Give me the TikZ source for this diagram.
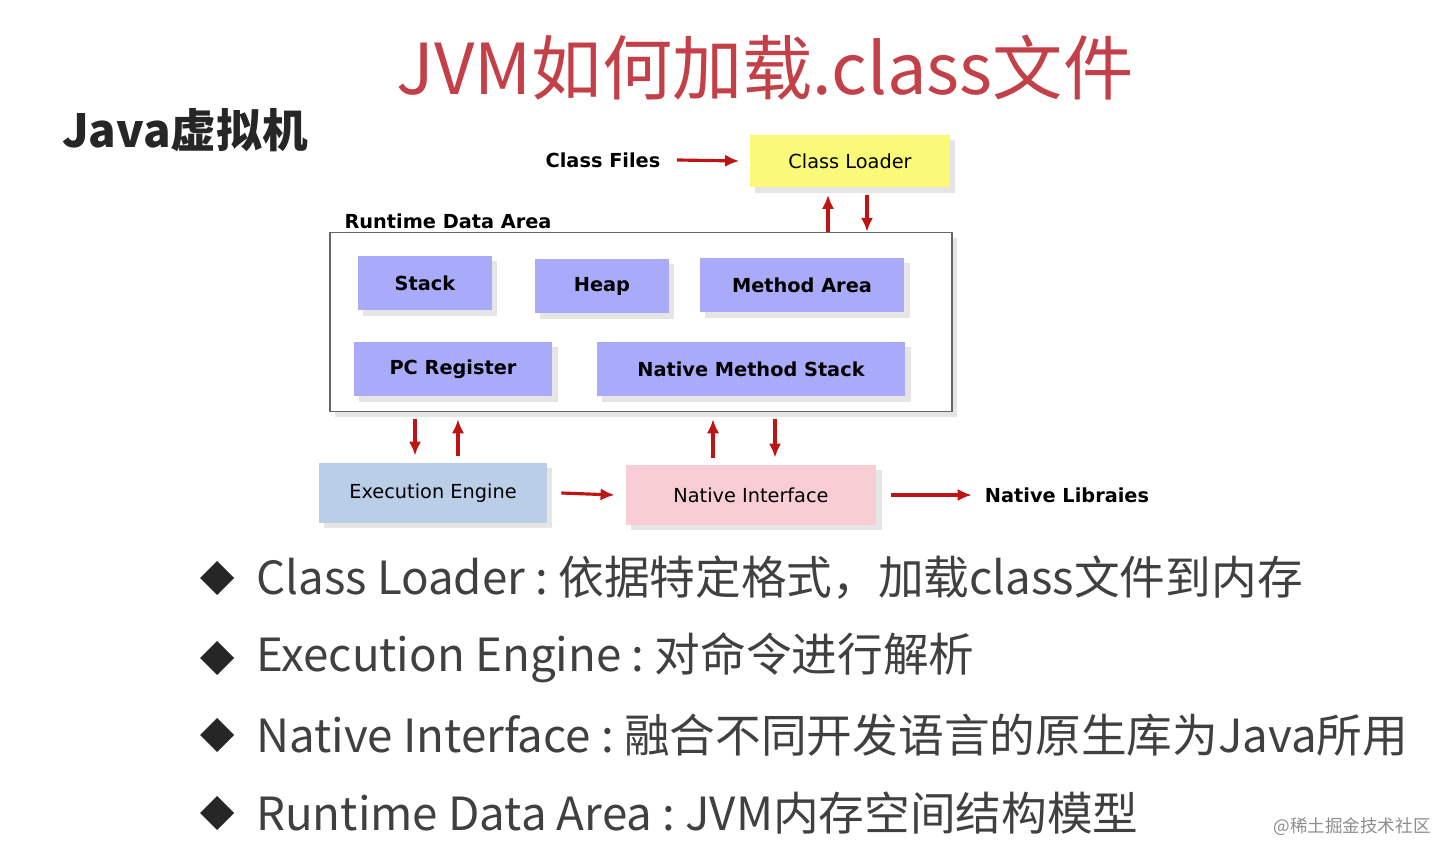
\documentclass[tikz,border=0pt]{standalone}
\usepackage{fontspec}
\setmainfont{Noto Sans CJK SC}
\newfontfamily\lab{DejaVu Sans}
\usetikzlibrary{shadows,arrows.meta}
\definecolor{titlered}{RGB}{196,64,72}
\definecolor{arrred}{RGB}{190,20,20}
\definecolor{lav}{RGB}{170,170,250}
\definecolor{ylw}{RGB}{250,250,120}
\definecolor{eblue}{RGB}{186,206,232}
\definecolor{npink}{RGB}{248,206,212}
\tikzset{
  box/.style={draw=none, minimum height=#1, inner sep=0pt,
    font=\lab\bfseries\fontsize{11}{13}\selectfont,
    drop shadow={shadow xshift=3pt, shadow yshift=-3pt, fill=gray!40}},
  area/.style={box=1.1cm, fill=lav},
  lbl/.style={font=\lab\bfseries\fontsize{11}{13}\selectfont},
  ar/.style={-{Latex[length=8pt,width=7pt]}, draw=arrred, line width=1.8pt},
  item/.style={anchor=west, font=\fontsize{26}{30}\selectfont, text=black!75},
}
\begin{document}
\begin{tikzpicture}[x=0.02cm, y=-0.02cm]
  \useasboundingbox (0,0) rectangle (1455,861);

  \node[text=titlered, font=\fontsize{40}{44}\selectfont] (title) at (765,68) {JVM如何加载.class文件};
  \node[font=\bfseries\fontsize{26}{30}\selectfont, text=black!85] (jvm) at (185,130) {Java虚拟机};

  \node[lbl] (files) at (603,160) {Class Files};
  \node[box=1.06cm, fill=ylw, minimum width=4cm, font=\lab\fontsize{11}{13}\selectfont] (loader) at (850,161) {Class Loader};

  \node[lbl] (rdalbl) at (448,221) {Runtime Data Area};
  \node[draw=black!60, fill=white, line width=0.8pt, minimum width=12.44cm, minimum height=3.58cm,
    drop shadow={shadow xshift=3pt, shadow yshift=-3pt, fill=gray!40}] (rda) at (641,322) {};

  \node[area, minimum width=2.68cm] (stack) at (425,283) {Stack};
  \node[area, minimum width=2.68cm] (heap) at (602,286) {Heap};
  \node[area, minimum width=4.1cm] (method) at (802,285) {Method Area};
  \node[area, minimum width=3.98cm] (pc) at (453,369) {PC Register};
  \node[area, minimum width=6.18cm] (native) at (751,369) {Native Method Stack};

  \node[box=1.2cm, fill=eblue, minimum width=4.56cm, font=\lab\fontsize{11}{13}\selectfont] (exec) at (433,493) {Execution Engine};
  \node[box=1.2cm, fill=npink, minimum width=5.02cm, font=\lab\fontsize{11}{13}\selectfont] (ni) at (751,495) {Native Interface};
  \node[lbl] (libs) at (1067,495) {Native Libraies};

  % connectors
  \draw[ar] ([xshift=6]files.east) -- ([xshift=-6]loader.west);
  \draw[ar] (rda.north -| 828,0) -- ([yshift=-4]loader.south -| 828,0);
  \draw[ar] ([yshift=-4]loader.south -| 867,0) -- (rda.north -| 867,0);
  \draw[ar] ([yshift=-4]rda.south -| 415,0) -- ([yshift=4]exec.north -| 415,0);
  \draw[ar] ([yshift=4]exec.north -| 458,0) -- ([yshift=-4]rda.south -| 458,0);
  \draw[ar] ([yshift=4]ni.north -| 713,0) -- ([yshift=-4]rda.south -| 713,0);
  \draw[ar] ([yshift=-4]rda.south -| 775,0) -- ([yshift=4]ni.north -| 775,0);
  \draw[ar] ([xshift=8]exec.east) -- ([xshift=-6]ni.west);
  \draw[ar] ([xshift=8]ni.east) -- ([xshift=-4]libs.west);

  % bullets
  \foreach \y/\t in {578/{Class Loader\ :\ 依据特定格式，加载class文件到内存},
                     658/{Execution Engine\ :\ 对命令进行解析},
                     735/{Native Interface\ :\ 融合不同开发语言的原生库为Java所用},
                     813/{Runtime Data Area\ :\ JVM内存空间结构模型}} {
    \fill[black!85] (217,\y) ++(-17,0) -- ++(17,-17) -- ++(17,17) -- ++(-17,17) -- cycle;
    \node[item] at (250,\y) {\t};
  }
  \node[text=black!45, font=\fontsize{10}{12}\selectfont] (mark) at (1352,827) {@稀土掘金技术社区};
\end{tikzpicture}
\end{document}
